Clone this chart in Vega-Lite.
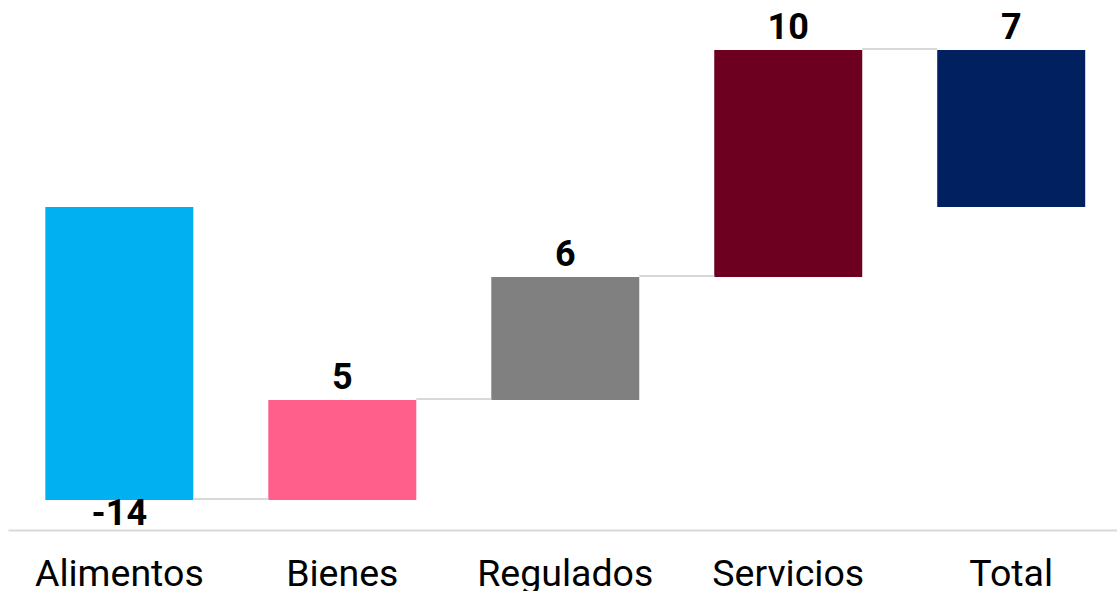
{
  "$schema": "https://vega.github.io/schema/vega-lite/v6.json",
  "width": 1109,
  "height": 530,
  "autosize": {"type": "none"},
  "padding": {"left": 8, "top": 0, "right": 0, "bottom": 61},
  "background": "white",
  "config": {"view": {"stroke": null}, "font": "Roboto"},
  "data": {
    "values": [
      {"cat": "Alimentos", "start": 0, "end": -13.53, "label": "-14", "connect": true},
      {"cat": "Bienes", "start": -13.53, "end": -8.91, "label": "5", "connect": true},
      {"cat": "Regulados", "start": -8.91, "end": -3.23, "label": "6", "connect": true},
      {"cat": "Servicios", "start": -3.23, "end": 7.25, "label": "10", "connect": true},
      {"cat": "Total", "start": 0, "end": 7.25, "label": "7", "connect": false}
    ]
  },
  "layer": [
    {
      "mark": {"type": "bar"},
      "encoding": {
        "x": {
          "field": "cat",
          "type": "nominal",
          "sort": null,
          "scale": {"paddingInner": 0.3363, "paddingOuter": 0.155, "align": 0.54},
          "axis": {
            "title": null,
            "labelAngle": 0,
            "labelFont": "Roboto",
            "labelFontSize": 37.5,
            "labelColor": "#000000",
            "labelPadding": 25,
            "ticks": false,
            "domainColor": "#d9d9d9",
            "domainWidth": 2
          }
        },
        "y": {
          "field": "start",
          "type": "quantitative",
          "scale": {"domain": [-14.912, 9.557], "nice": false, "zero": false},
          "axis": null
        },
        "y2": {"field": "end"},
        "color": {
          "field": "cat",
          "type": "nominal",
          "scale": {
            "domain": ["Alimentos", "Bienes", "Regulados", "Servicios", "Total"],
            "range": ["#00B0F0", "#FF5F8A", "#808080", "#6D0020", "#002060"]
          },
          "legend": null
        }
      }
    },
    {
      "transform": [{"filter": "datum.connect"}],
      "mark": {"type": "tick", "orient": "horizontal", "color": "#d9d9d9", "size": 75, "thickness": 2, "xOffset": 111.5, "yOffset": -1, "opacity": 1},
      "encoding": {
        "x": {"field": "cat", "type": "nominal", "sort": null},
        "y": {"field": "end", "type": "quantitative"}
      }
    },
    {
      "transform": [{"filter": "datum.end - datum.start >= 0"}],
      "mark": {"type": "text", "font": "Roboto", "fontSize": 36, "fontWeight": "bold", "color": "#000000", "baseline": "alphabetic", "dy": -11},
      "encoding": {
        "x": {"field": "cat", "type": "nominal", "sort": null},
        "y": {"field": "end", "type": "quantitative"},
        "text": {"field": "label"}
      }
    },
    {
      "transform": [{"filter": "datum.end - datum.start < 0"}],
      "mark": {"type": "text", "font": "Roboto", "fontSize": 36, "fontWeight": "bold", "color": "#000000", "baseline": "alphabetic", "dy": 25},
      "encoding": {
        "x": {"field": "cat", "type": "nominal", "sort": null},
        "y": {"field": "end", "type": "quantitative"},
        "text": {"field": "label"}
      }
    }
  ]
}
